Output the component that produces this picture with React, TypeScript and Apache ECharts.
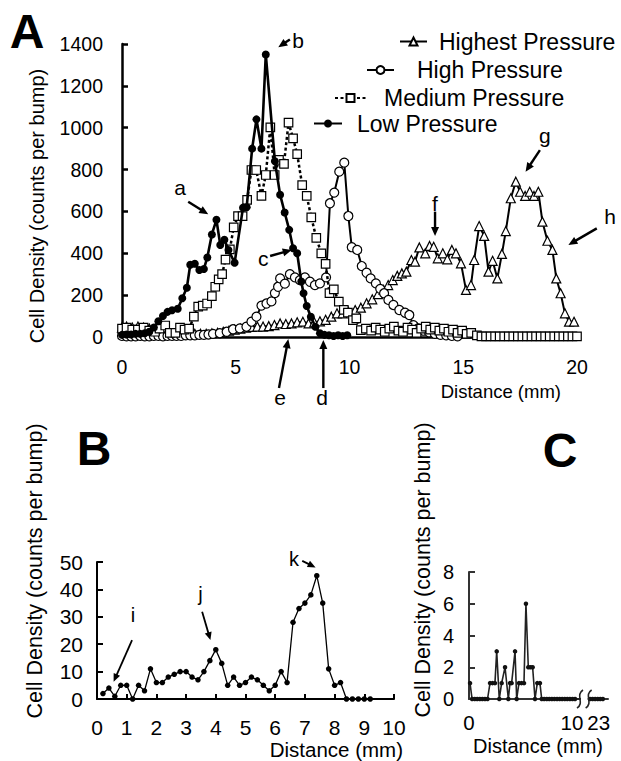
import React, { useEffect, useRef } from "react";
import * as echarts from "echarts";

// ---------- DATA (distance mm, cell density counts per bump) ----------
const HIGHEST_PRESSURE: number[][] = [
  [0, 45], [0.2, 50], [0.45, 45], [0.7, 50], [0.95, 45], [1.2, 40], [1.45, 30], [1.7, 20], [1.95, 15], [2.2, 15],
  [2.45, 15], [2.7, 15], [2.95, 12], [3.2, 15], [3.45, 15], [3.7, 15], [3.95, 18], [4.2, 20], [4.45, 25], [4.7, 30],
  [4.95, 35], [5.2, 40], [5.45, 45], [5.7, 48], [5.95, 50], [6.2, 50], [6.45, 52], [6.7, 57], [6.95, 65], [7.2, 62],
  [7.45, 65], [7.7, 70], [7.95, 73], [8.2, 65], [8.45, 70], [8.7, 75], [8.95, 82], [9.2, 97], [9.45, 113], [9.7, 113],
  [9.95, 121], [10.25, 129], [10.5, 140], [10.75, 161], [11.0, 180], [11.25, 205], [11.5, 225], [11.7, 248], [11.9, 272],
  [12.1, 292], [12.3, 304], [12.5, 312], [12.72, 368], [12.88, 360], [13.07, 428], [13.33, 400], [13.52, 435], [13.7, 431],
  [13.88, 376], [14.1, 400], [14.3, 371], [14.5, 416], [14.68, 400], [14.9, 352], [15.12, 225], [15.34, 248], [15.48, 368],
  [15.7, 530], [15.92, 483], [16.11, 312], [16.29, 364], [16.5, 280], [16.7, 397], [16.87, 506], [17.09, 663], [17.31, 742],
  [17.5, 694], [17.72, 674], [17.92, 694], [18.11, 674], [18.3, 694], [18.48, 551], [18.7, 460], [18.92, 416], [19.09, 280],
  [19.28, 209], [19.47, 113], [19.65, 73], [19.87, 73],
];

const HIGH_PRESSURE: number[][] = [
  [0, 5], [0.2, 3], [0.4, 3], [0.6, 3], [0.8, 5], [1.0, 3], [1.2, 3], [1.4, 5], [1.6, 5], [1.8, 3],
  [2.0, 5], [2.2, 5], [2.4, 5], [2.6, 5], [2.8, 8], [3.0, 8], [3.2, 8], [3.4, 10], [3.6, 10], [3.8, 12],
  [4.0, 15], [4.3, 18], [4.6, 25], [4.88, 37], [5.18, 41], [5.47, 49], [5.69, 73], [5.91, 97], [6.13, 150], [6.35, 160],
  [6.57, 170], [6.72, 210], [6.86, 240], [6.95, 280], [7.16, 255], [7.38, 300], [7.6, 285], [7.82, 272], [8.04, 285],
  [8.26, 264], [8.48, 248], [8.7, 256], [8.97, 285], [9.14, 639], [9.33, 690], [9.55, 790], [9.77, 833], [9.95, 578],
  [10.1, 429], [10.34, 416], [10.54, 339], [10.75, 307], [10.93, 280], [11.16, 256], [11.35, 230], [11.52, 209],
  [11.71, 177], [11.93, 153], [12.19, 129], [12.44, 116], [12.63, 105], [12.81, 57], [13.02, 41], [13.25, 30],
  [13.5, 22], [13.75, 15], [14.0, 10], [14.25, 8], [14.5, 5], [14.75, 3],
];

const MEDIUM_PRESSURE: number[][] = [
  [0, 40], [0.2, 45], [0.45, 35], [0.7, 35], [0.95, 45], [1.2, 30], [1.45, 25], [1.65, 40], [1.9, 55], [2.1, 20],
  [2.35, 20], [2.55, 45], [2.75, 35], [2.95, 40], [3.16, 97], [3.35, 145], [3.55, 150], [3.74, 160], [3.95, 195],
  [4.1, 240], [4.25, 275], [4.4, 300], [4.55, 370], [4.74, 419], [4.91, 524], [5.1, 578], [5.3, 578], [5.5, 655],
  [5.69, 798], [5.9, 798], [6.13, 674], [6.32, 774], [6.52, 1002], [6.71, 774], [6.9, 846], [7.12, 827], [7.32, 1024],
  [7.52, 949], [7.7, 874], [7.92, 726], [8.12, 674], [8.32, 572], [8.54, 474], [8.76, 400], [8.95, 349], [9.12, 210],
  [9.31, 228], [9.53, 169], [9.75, 130], [9.93, 116], [10.15, 81], [10.3, 89], [10.5, 33], [10.72, 40], [10.95, 30],
  [11.15, 45], [11.35, 35], [11.55, 25], [11.75, 40], [11.95, 50], [12.15, 30], [12.35, 25], [12.55, 45], [12.75, 35],
  [12.95, 20], [13.15, 40], [13.35, 50], [13.55, 35], [13.75, 45], [13.95, 30], [14.15, 40], [14.35, 25], [14.55, 35],
  [14.75, 20], [14.95, 30], [15.15, 15], [15.35, 20], [15.6, 8], [15.8, 3], [16.0, 3], [16.2, 3], [16.4, 3], [16.6, 3],
  [16.8, 3], [17.0, 3], [17.2, 3], [17.4, 3], [17.6, 3], [17.8, 3], [18.0, 3], [18.2, 3], [18.4, 3], [18.6, 3], [18.8, 3],
  [19.0, 3], [19.2, 3], [19.4, 3], [19.6, 3], [19.8, 3], [20.0, 3],
];

const LOW_PRESSURE: number[][] = [
  [0, 10], [0.2, 12], [0.4, 12], [0.6, 15], [0.8, 15], [1.0, 18], [1.2, 25], [1.4, 45], [1.6, 75], [1.8, 100],
  [2.0, 120], [2.2, 128], [2.45, 135], [2.65, 185], [2.85, 235], [3.0, 345], [3.2, 350], [3.4, 320], [3.6, 325],
  [3.75, 380], [3.95, 490], [4.15, 560], [4.32, 440], [4.5, 465], [4.68, 416], [4.95, 355], [5.32, 618], [5.48, 620],
  [5.72, 900], [5.91, 1040], [6.13, 900], [6.32, 1350], [6.72, 840], [6.95, 680], [7.15, 595], [7.35, 512], [7.52, 424],
  [7.7, 400], [7.88, 265], [7.98, 209], [8.12, 148], [8.3, 97], [8.5, 49], [8.7, 18], [8.9, 10], [9.1, 8], [9.3, 5],
  [9.5, 8], [9.7, 5], [9.9, 8],
];

// Panel B
const B_DISTANCE: number[] = [
  0.2, 0.4, 0.6, 0.8, 1.0, 1.2, 1.4, 1.6, 1.8, 2.0, 2.2, 2.4, 2.6, 2.8, 3.0, 3.2, 3.4, 3.6, 3.8, 4.0,
  4.2, 4.4, 4.6, 4.8, 5.0, 5.2, 5.4, 5.6, 5.8, 6.0, 6.2, 6.4, 6.6, 6.8, 7.0, 7.2, 7.4, 7.6, 7.8, 8.0,
  8.2, 8.4, 8.6, 8.8, 9.0, 9.2,
];
const B_DENSITY: number[] = [
  2, 4, 1, 5, 5, 0, 5, 3, 11, 6, 6, 8, 9, 10, 10, 8, 7, 10, 14, 18,
  13, 5, 8, 5, 6, 8, 7, 5, 3, 5, 10, 6, 28, 33, 35, 38, 45, 35, 11, 5,
  6, 0, 0, 0, 0, 0,
];

// Panel C (distances in mm; values past the axis break are real distances 22-23.4 mm)
const C_DISTANCE: number[] = [
  0.1, 0.3, 0.55, 0.8, 1.05, 1.3, 1.55, 1.8, 2.04, 2.28, 2.52, 2.69, 2.94, 3.17, 3.5, 3.82, 3.98, 4.14, 4.47, 4.63,
  4.85, 5.1, 5.34, 5.53, 5.76, 5.97, 6.18, 6.41, 6.63, 6.89, 7.06, 7.3, 7.55, 7.8, 8.05, 8.3, 8.55, 8.8, 9.05, 9.3,
  9.55, 9.8, 10.05, 10.3, 22.15, 22.4, 22.65, 22.9, 23.15, 23.4,
];
const C_DENSITY: number[] = [
  1, 0, 0, 0, 0, 0, 0, 0, 1, 1, 1, 3, 0, 1, 2, 0, 1, 1, 3, 0,
  1, 1, 1, 6, 2, 2, 2, 0, 1, 1, 0, 0, 0, 0, 0, 0, 0, 0, 0, 0,
  0, 0, 0, 0, 0, 0, 0, 0, 0, 0,
];

// Tick labels
const A_Y_TICKS = { min: 0, max: 1400, step: 200 };
const A_X_TICKS = { min: 0, max: 20, step: 5 };
const B_Y_TICKS = { min: 0, max: 50, step: 10 };
const B_X_TICKS = { min: 0, max: 10, step: 1 };
const C_Y_TICKS = { min: 0, max: 8, step: 2 };
const C_X_TICK_LABELS: number[] = [0, 10, 23];

const LEGEND_NAMES = ["Highest Pressure", "High Pressure", "Medium Pressure", "Low Pressure"];

// ---------- layout helpers ----------
const FONT = "'Liberation Sans', Arial, Helvetica, sans-serif";
const C_BREAK_SHIFT = 10.4; // real 23 mm is drawn at 12.6 on the broken axis
const C_AXIS_MAX = 13.5;
const plotC = (x: number) => (x > 15 ? x - C_BREAK_SHIFT : x);
const C_BREAK_AT = [10.78, 11.62];

type Ann = { label: string; at: number[]; from: number[]; to: number[] };
const A_ANNOTATIONS: Ann[] = [
  { label: "a", at: [2.55, 712], from: [2.91, 646], to: [3.79, 586] },
  { label: "b", at: [7.74, 1419], from: [7.38, 1422], to: [6.87, 1384] },
  { label: "c", at: [6.21, 376], from: [6.51, 387], to: [7.46, 416] },
  { label: "d", at: [8.79, -291], from: [8.85, -244], to: [8.85, -14] },
  { label: "e", at: [6.95, -291], from: [6.9, -244], to: [7.31, -10] },
  { label: "f", at: [13.76, 639], from: [13.76, 599], to: [13.76, 483] },
  { label: "g", at: [18.59, 965], from: [18.37, 893], to: [17.74, 790] },
  { label: "h", at: [21.45, 575], from: [20.87, 519], to: [19.62, 440] },
];
const B_ANNOTATIONS: Ann[] = [
  { label: "i", at: [1.21, 30.7], from: [1.18, 21.5], to: [0.56, 6.3] },
  { label: "j", at: [3.48, 38.3], from: [3.54, 31.8], to: [3.82, 21.5] },
  { label: "k", at: [6.63, 51.0], from: [6.91, 50.4], to: [7.36, 48.0] },
];

function arrow(p1: number[], p2: number[], lw: number, hl: number, hw: number) {
  const dx = p2[0] - p1[0];
  const dy = p2[1] - p1[1];
  const len = Math.hypot(dx, dy) || 1;
  const ux = dx / len;
  const uy = dy / len;
  const bx = p2[0] - ux * hl;
  const by = p2[1] - uy * hl;
  const nx = -uy;
  const ny = ux;
  return [
    {
      type: "line", silent: true, z: 100,
      shape: { x1: p1[0], y1: p1[1], x2: bx + ux * 1, y2: by + uy * 1 },
      style: { stroke: "#000", lineWidth: lw },
    },
    {
      type: "polygon", silent: true, z: 100,
      shape: { points: [[p2[0], p2[1]], [bx + (nx * hw) / 2, by + (ny * hw) / 2], [bx - (nx * hw) / 2, by - (ny * hw) / 2]] },
      style: { fill: "#000" },
    },
  ];
}

function txt(x: number, y: number, text: string, size: number, opts: any = {}) {
  return {
    type: "text", silent: true, z: 100,
    x, y, rotation: opts.rotation || 0,
    style: {
      text, fill: "#000",
      font: `${opts.bold ? "bold " : ""}${size}px ${FONT}`,
      fontSize: size, fontFamily: FONT, fontWeight: opts.bold ? "bold" : "normal",
      align: opts.align || "center", textAlign: opts.align || "center",
      verticalAlign: "middle", textVerticalAlign: "middle",
    },
  };
}

function ticks(t: { min: number; max: number; step: number }) {
  return { min: t.min, max: t.max, interval: t.step };
}

function buildOption() {
  const axisLineA = { show: true, onZero: false, lineStyle: { color: "#000", width: 2.5 } };
  const axisLineB = { show: true, onZero: false, lineStyle: { color: "#000", width: 2 } };
  const axisLineC = { show: true, onZero: false, lineStyle: { color: "#333", width: 2 } };
  const lbl = (size: number, margin: number) => ({
    fontSize: size, color: "#000", fontFamily: FONT, margin,
    formatter: (v: number) => String(v),
  });

  const openStyle = { color: "#fff", borderColor: "#000", borderWidth: 1.2 };
  const common = { type: "line", xAxisIndex: 0, yAxisIndex: 0, emphasis: { disabled: true }, clip: false };

  const legendPos = [
    { left: 399, top: 29.5, itemWidth: 27, pad: 7 },
    { left: 366, top: 58, itemWidth: 27, pad: 18 },
    { left: 334, top: 86, itemWidth: 31, pad: 13 },
    { left: 313, top: 111.5, itemWidth: 28, pad: 10 },
  ];

  return {
    animation: false,
    textStyle: { fontFamily: FONT, color: "#000" },
    grid: [
      { left: 122, top: 44, width: 455, height: 293 },
      { left: 97, top: 562, width: 297, height: 137 },
      { left: 469, top: 572, width: 139, height: 127 },
    ],
    legend: LEGEND_NAMES.map((name, i) => ({
      data: [name],
      left: legendPos[i].left,
      top: legendPos[i].top,
      orient: "horizontal",
      padding: 0,
      itemWidth: legendPos[i].itemWidth,
      itemHeight: 10,
      selectedMode: false,
      textStyle: {
        fontSize: 23, fontFamily: FONT, color: "#000", lineHeight: 24,
        padding: [0, 0, 0, legendPos[i].pad],
      },
    })),
    xAxis: [
      {
        gridIndex: 0, type: "value", ...ticks(A_X_TICKS),
        axisLine: axisLineA, axisTick: { show: false }, splitLine: { show: false },
        axisLabel: lbl(19.5, 20),
      },
      {
        gridIndex: 1, type: "value", ...ticks(B_X_TICKS),
        axisLine: axisLineB, axisTick: { show: true, inside: true, length: 5, lineStyle: { color: "#000", width: 2 } },
        splitLine: { show: false }, axisLabel: lbl(21, 18),
      },
      {
        gridIndex: 2, type: "value", min: 0, max: C_AXIS_MAX,
        axisLine: axisLineC, axisTick: { show: false }, splitLine: { show: false },
        axisLabel: {
          ...lbl(20.5, 13),
          customValues: C_X_TICK_LABELS.map(plotC),
          formatter: (v: number) => String(Math.round(v > 10.5 ? v + C_BREAK_SHIFT : v)),
        },
      },
    ],
    yAxis: [
      {
        gridIndex: 0, type: "value", ...ticks(A_Y_TICKS),
        axisLine: axisLineA, axisTick: { show: true, inside: true, length: 6, lineStyle: { color: "#000", width: 2.5 } },
        splitLine: { show: false }, axisLabel: lbl(19.5, 19),
      },
      {
        gridIndex: 1, type: "value", ...ticks(B_Y_TICKS),
        axisLine: axisLineB, axisTick: { show: true, inside: true, length: 6, lineStyle: { color: "#000", width: 2 } },
        splitLine: { show: false }, axisLabel: lbl(21, 14),
      },
      {
        gridIndex: 2, type: "value", ...ticks(C_Y_TICKS),
        axisLine: axisLineC, axisTick: { show: true, inside: true, length: 6, lineStyle: { color: "#333", width: 2 } },
        splitLine: { show: false }, axisLabel: lbl(20, 15),
      },
    ],
    series: [
      {
        ...common, name: "Highest Pressure", data: HIGHEST_PRESSURE, z: 2,
        symbol: "triangle", symbolSize: 9, itemStyle: openStyle,
        lineStyle: { color: "#000", width: 2 },
      },
      {
        ...common, name: "High Pressure", data: HIGH_PRESSURE, z: 3,
        symbol: "circle", symbolSize: 9, itemStyle: openStyle,
        lineStyle: { color: "#000", width: 2 },
      },
      {
        ...common, name: "Medium Pressure", data: MEDIUM_PRESSURE, z: 4,
        symbol: "rect", symbolSize: 8.5, itemStyle: openStyle,
        lineStyle: { color: "#000", width: 2.5, type: [3, 2.5] },
      },
      {
        ...common, name: "Low Pressure", data: LOW_PRESSURE, z: 5,
        symbol: "circle", symbolSize: 8, itemStyle: { color: "#000" },
        lineStyle: { color: "#000", width: 2.6 },
      },
      {
        type: "line", name: "B", xAxisIndex: 1, yAxisIndex: 1, emphasis: { disabled: true },
        data: B_DISTANCE.map((x, i) => [x, B_DENSITY[i]]),
        symbol: "circle", symbolSize: 5.5, itemStyle: { color: "#000" },
        lineStyle: { color: "#000", width: 1.3 },
      },
      {
        type: "line", name: "C", xAxisIndex: 2, yAxisIndex: 2, emphasis: { disabled: true },
        data: C_DISTANCE.map((x, i) => [plotC(x), C_DENSITY[i]]),
        symbol: "circle", symbolSize: 4.5, itemStyle: { color: "#111" },
        lineStyle: { color: "#222", width: 1.6 },
      },
    ],
  };
}

function buildGraphics(chart: any) {
  const els: any[] = [];
  const px = (g: number, p: number[]) => chart.convertToPixel({ gridIndex: g }, p);

  // panel letters
  els.push(txt(27, 31, "A", 48, { bold: true }));
  els.push(txt(94, 448, "B", 48, { bold: true }));
  els.push(txt(560, 450, "C", 48, { bold: true }));

  // axis titles
  const yTitle = "Cell Density (counts per bump)";
  els.push(txt(37, 206, yTitle, 20, { rotation: Math.PI / 2 }));
  els.push(txt(35, 571, yTitle, 21.5, { rotation: Math.PI / 2 }));
  els.push(txt(423, 570, yTitle, 21.5, { rotation: Math.PI / 2 }));
  els.push(txt(561, 391, "Distance (mm)", 18.5, { align: "right" }));
  els.push(txt(403, 749, "Distance (mm)", 20.5, { align: "right" }));
  els.push(txt(538, 746, "Distance (mm)", 20, {}));

  A_ANNOTATIONS.forEach((a) => {
    const p = px(0, a.at);
    els.push(txt(p[0], p[1], a.label, 21));
    els.push(...arrow(px(0, a.from), px(0, a.to), 2.4, 9, 8));
  });
  B_ANNOTATIONS.forEach((a) => {
    const p = px(1, a.at);
    els.push(txt(p[0], p[1], a.label, 20));
    els.push(...arrow(px(1, a.from), px(1, a.to), 1.8, 8, 7));
  });

  // axis break marks on panel C
  const b1 = px(2, [C_BREAK_AT[0], 0]);
  const b2 = px(2, [C_BREAK_AT[1], 0]);
  els.push({
    type: "rect", silent: true, z: 99,
    shape: { x: b1[0] + 1, y: b1[1] - 4, width: b2[0] - b1[0] - 2, height: 8 },
    style: { fill: "#fff" },
  });
  [b1, b2].forEach((b) => {
    els.push({
      type: "bezierCurve", silent: true, z: 100,
      shape: {
        x1: b[0] - 3, y1: b[1] + 9, x2: b[0] + 3, y2: b[1] - 9,
        cpx1: b[0] + 5, cpy1: b[1] + 4, cpx2: b[0] - 5, cpy2: b[1] - 4,
      },
      style: { stroke: "#222", lineWidth: 1.6, fill: null },
    });
  });
  return els;
}

export default function App() {
  const ref = useRef<HTMLDivElement>(null);
  useEffect(() => {
    if (!ref.current) return;
    const chart = echarts.init(ref.current, null, { renderer: "svg" });
    chart.setOption(buildOption() as any);
    chart.setOption({ graphic: buildGraphics(chart) } as any);
    return () => chart.dispose();
  }, []);
  return (
    <div
      ref={ref}
      style={{ position: "absolute", left: 0, top: 0, width: 621, height: 761, background: "#fff" }}
    />
  );
}
